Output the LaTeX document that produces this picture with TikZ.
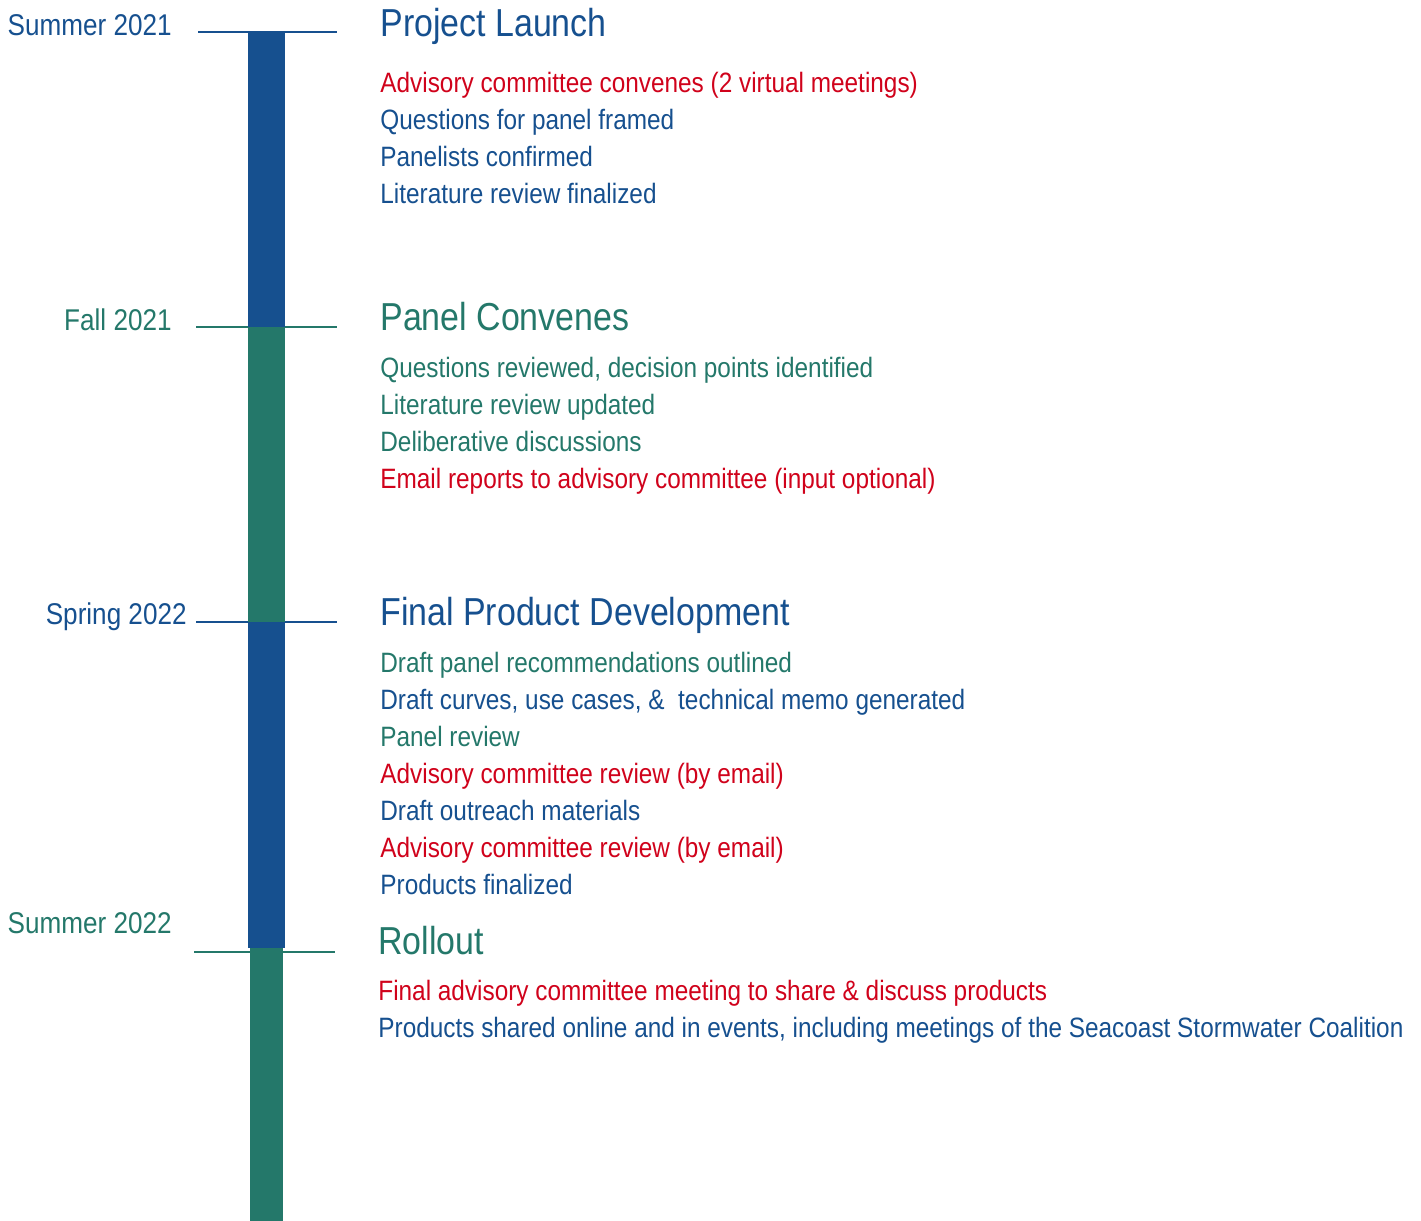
\documentclass[tikz,border=0pt]{standalone}
\usepackage{fontspec}
\setmainfont{Liberation Sans}[FakeStretch=0.87]
\usetikzlibrary{positioning}
\definecolor{tlblue}{HTML}{16508F}
\definecolor{tlgreen}{HTML}{24786A}
\definecolor{tlred}{HTML}{D0021B}
\tikzset{node distance=5.15pt, % Gap between two item lines
  every node/.style={inner sep=0pt},
         date/.style={ % Season labels left of the bar
           anchor=base east,
           font=\fontsize{15}{17}\selectfont},
         phase/.style={ % Phase headings
           anchor=base west,
           font=\fontsize{19.5}{22}\selectfont},
         item/.style={ % One line of the phase lists
           anchor=north west,
           text height=10pt, text depth=3pt,
           font=\fontsize{14}{16}\selectfont},
         tick/.style={line width=1pt}}

\begin{document}
\begin{tikzpicture}[x=0.5pt, y=-0.5pt]
  \useasboundingbox (0,0) rectangle (1421,1221);

  % ticks first, the bar goes over them
  \draw [tick, tlblue]  (198,32)  -- (337,32);
  \draw [tick, tlgreen] (196,327) -- (337,327);
  \draw [tick, tlblue]  (196,622) -- (337,622);
  \draw [tick, tlgreen] (194,952) -- (335,952);

  \fill [tlblue]  (248,32)  rectangle (285,327);
  \fill [tlgreen] (248,327) rectangle (285,622);
  \fill [tlblue]  (248,622) rectangle (285,948);
  \fill [tlgreen] (250,948) rectangle (283,1221);

  % seasons
  \node [date, text=tlblue]  (dsum21) at (172,35)  {Summer 2021};
  \node [date, text=tlgreen] (dfal21) at (172,330) {Fall 2021};
  \node [date, text=tlblue]  (dspr22) at (187,624) {Spring 2022};
  \node [date, text=tlgreen] (dsum22) at (172,933) {Summer 2022};

  % Project Launch
  \node [phase, text=tlblue] (hlaunch) at (380,36) {Project Launch};
  \node [item, anchor=base west, text=tlred] (ilaunch1) at (380,92)
    {Advisory committee convenes (2 virtual meetings)};
  \node [item, below=of ilaunch1.south west, anchor=north west, text=tlblue] (ilaunch2)
    {Questions for panel framed};
  \node [item, below=of ilaunch2.south west, anchor=north west, text=tlblue] (ilaunch3)
    {Panelists confirmed};
  \node [item, below=of ilaunch3.south west, anchor=north west, text=tlblue] (ilaunch4)
    {Literature review finalized};

  % Panel Convenes
  \node [phase, text=tlgreen] (hpanel) at (380,330) {Panel Convenes};
  \node [item, anchor=base west, text=tlgreen] (ipanel1) at (380,377)
    {Questions reviewed, decision points identified};
  \node [item, below=of ipanel1.south west, anchor=north west, text=tlgreen] (ipanel2)
    {Literature review updated};
  \node [item, below=of ipanel2.south west, anchor=north west, text=tlgreen] (ipanel3)
    {Deliberative discussions};
  \node [item, below=of ipanel3.south west, anchor=north west, text=tlred] (ipanel4)
    {Email reports to advisory committee (input optional)};

  % Final Product Development
  \node [phase, text=tlblue] (hfinal) at (380,625) {Final Product Development};
  \node [item, anchor=base west, text=tlgreen] (ifinal1) at (380,672)
    {Draft panel recommendations outlined};
  \node [item, below=of ifinal1.south west, anchor=north west, text=tlblue] (ifinal2)
    {Draft curves, use cases, \&\ \ technical memo generated};
  \node [item, below=of ifinal2.south west, anchor=north west, text=tlgreen] (ifinal3)
    {Panel review};
  \node [item, below=of ifinal3.south west, anchor=north west, text=tlred] (ifinal4)
    {Advisory committee review (by email)};
  \node [item, below=of ifinal4.south west, anchor=north west, text=tlblue] (ifinal5)
    {Draft outreach materials};
  \node [item, below=of ifinal5.south west, anchor=north west, text=tlred] (ifinal6)
    {Advisory committee review (by email)};
  \node [item, below=of ifinal6.south west, anchor=north west, text=tlblue] (ifinal7)
    {Products finalized};

  % Rollout
  \node [phase, text=tlgreen] (hroll) at (378,954) {Rollout};
  \node [item, anchor=base west, text=tlred] (iroll1) at (378,1000)
    {Final advisory committee meeting to share \& discuss products};
  \node [item, below=of iroll1.south west, anchor=north west, text=tlblue] (iroll2)
    {Products shared online and in events, including meetings of the Seacoast Stormwater Coalition};

\end{tikzpicture}
\end{document}
